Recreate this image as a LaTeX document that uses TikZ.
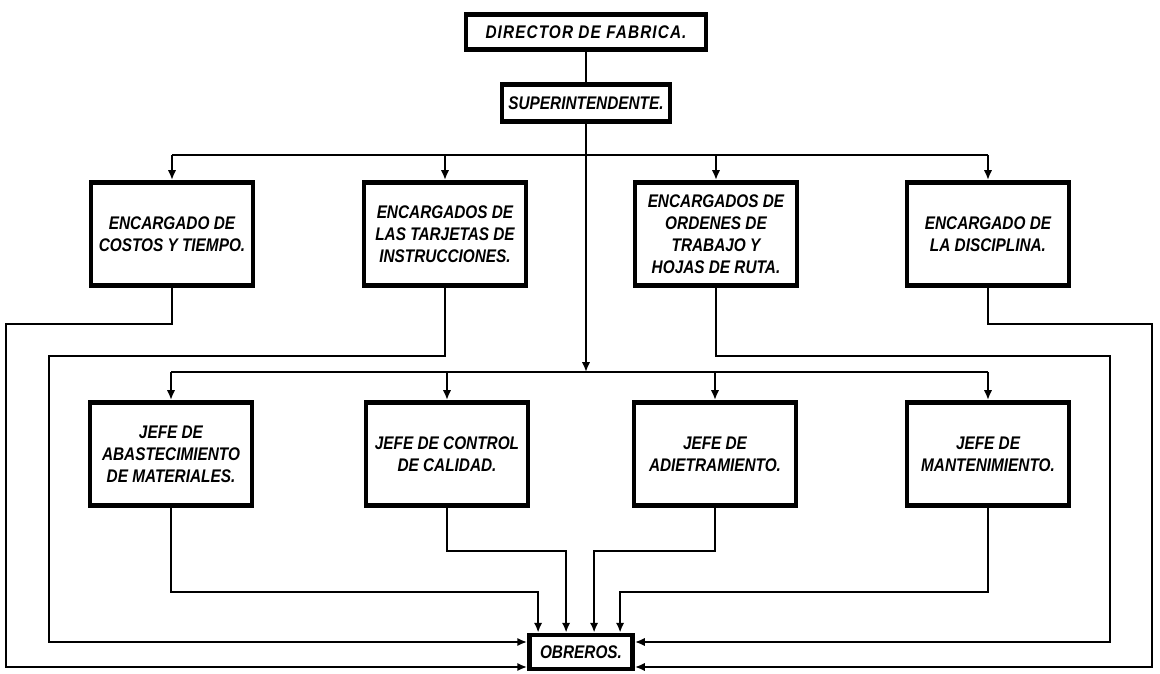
\documentclass[tikz,border=0pt]{standalone}
\usepackage{fontspec}
\newfontfamily\orgfont{Liberation Sans}[FakeStretch=0.84]
\usepackage{tikz}
\usetikzlibrary{arrows.meta, calc}

\begin{document}
\begin{tikzpicture}[
    x=0.025cm, y=-0.025cm,
    every node/.style={draw, line width=3.4pt, align=center, inner sep=2pt,
        font=\orgfont\bfseries\itshape\fontsize{13}{15.6}\selectfont},
    cargo/.style={minimum width=4.05cm, minimum height=2.58cm},
    line/.style={line width=1.4pt},
    arrow/.style={line, -{Latex[length=7pt, width=6pt]}}
]
\useasboundingbox (0,0) rectangle (1160,674);

\node[minimum width=6cm, minimum height=0.875cm] (dir) at (586,32)
    {\addfontfeature{LetterSpace=6}DIRECTOR DE FABRICA.};
\node[minimum width=4.2cm, minimum height=0.925cm] (sup) at (586,103) {SUPERINTENDENTE.};

\node[cargo] (enc1) at (172,234) {ENCARGADO DE\\COSTOS Y TIEMPO.};
\node[cargo] (enc2) at (445,234) {ENCARGADOS DE\\LAS TARJETAS DE\\INSTRUCCIONES.};
\node[cargo] (enc3) at (716,234) {ENCARGADOS DE\\ORDENES DE\\TRABAJO Y\\HOJAS DE RUTA.};
\node[cargo] (enc4) at (988,234) {ENCARGADO DE\\LA DISCIPLINA.};

\node[cargo] (jef1) at (171,454) {JEFE DE\\ABASTECIMIENTO\\DE MATERIALES.};
\node[cargo] (jef2) at (447,454) {JEFE DE CONTROL\\DE CALIDAD.};
\node[cargo] (jef3) at (715,454) {JEFE DE\\ADIETRAMIENTO.};
\node[cargo] (jef4) at (988,454) {JEFE DE\\MANTENIMIENTO.};

\node[minimum width=2.575cm, minimum height=0.85cm] (obr) at (581,652) {OBREROS.};

\coordinate (bus1) at (0,155);
\coordinate (bus2) at (0,372);
\coordinate (ra) at (0,324);
\coordinate (rb) at (0,356);
\coordinate (hi) at (0,642);
\coordinate (lo) at (0,667);
\coordinate (dn1) at (0,592);
\coordinate (dn2) at (0,551);
\coordinate (railL1) at (6,0);
\coordinate (railL2) at (49,0);
\coordinate (railR2) at (1110,0);
\coordinate (railR1) at (1152,0);
\coordinate (in1) at ($(obr.north west)+(11,0)$);
\coordinate (in2) at ($(obr.north west)+(39,0)$);
\coordinate (in3) at ($(obr.north west)+(67,0)$);
\coordinate (in4) at ($(obr.north west)+(93,0)$);

\draw[line] (dir) -- (sup);
\draw[arrow] (sup.south) -- (sup.south |- bus2);

\draw[line] (enc1.north |- bus1) -- (enc4.north |- bus1);
\draw[line] (jef1.north |- bus2) -- (jef4.north |- bus2);
\foreach \n in {enc1,enc2,enc3,enc4}
    \draw[arrow] (\n.north |- bus1) -- (\n.north);
\foreach \n in {jef1,jef2,jef3,jef4}
    \draw[arrow] (\n.north |- bus2) -- (\n.north);

\draw[arrow] (enc1.south) |- (railL1 |- ra) |- (obr.west |- lo);
\draw[arrow] (enc2.south) |- (railL2 |- rb) |- (obr.west |- hi);
\draw[arrow] (enc3.south) |- (railR2 |- rb) |- (obr.east |- hi);
\draw[arrow] (enc4.south) |- (railR1 |- ra) |- (obr.east |- lo);

\draw[arrow] (jef1.south) |- (in1 |- dn1) -- (in1);
\draw[arrow] (jef2.south) |- (in2 |- dn2) -- (in2);
\draw[arrow] (jef3.south) |- (in3 |- dn2) -- (in3);
\draw[arrow] (jef4.south) |- (in4 |- dn1) -- (in4);
\end{tikzpicture}
\end{document}
